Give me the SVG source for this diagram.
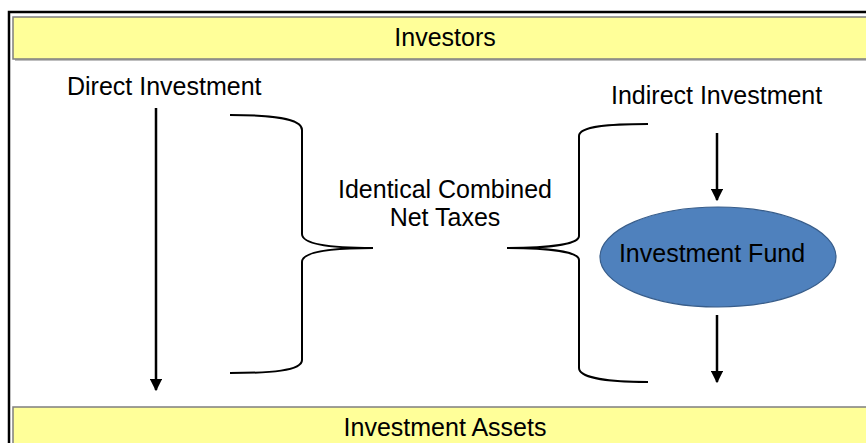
<svg xmlns="http://www.w3.org/2000/svg" width="866" height="443" viewBox="0 0 866 443">
  <defs>
    <marker id="arrowhead" viewBox="0 0 10 10" refX="9" refY="5" markerWidth="5" markerHeight="5" markerUnits="strokeWidth" orient="auto">
      <path d="M0,0 L10,5 L0,10 z" fill="#000"/>
    </marker>
  </defs>
  <style>
    text { font-family: "Liberation Sans", Arial, sans-serif; font-size: 25px; fill: #000; }
    .bar { fill: #FFFF99; stroke: #7F7F7F; stroke-width: 1.5; }
    .shadow { fill: #BFBFBF; }
    .brace { fill: none; stroke: #000; stroke-width: 2; }
    .arrow { fill: none; stroke: #000; stroke-width: 2.5; marker-end: url(#arrowhead); }
    .mid { text-anchor: middle; }
  </style>

  <rect x="0" y="0" width="866" height="443" fill="#fff"/>

  <!-- outer frame -->
  <rect x="9" y="12" width="870" height="450" fill="none" stroke="#000" stroke-width="2.5"/>

  <!-- top bar -->
  <g id="investors">
    <rect class="shadow" x="15" y="19" width="860" height="42"/>
    <rect class="bar" x="13" y="17" width="860" height="42"/>
    <text class="mid" x="445" y="46">Investors</text>
  </g>

  <!-- bottom bar -->
  <g id="investment-assets">
    <rect class="shadow" x="15" y="409" width="860" height="42"/>
    <rect class="bar" x="13" y="407" width="860" height="42"/>
    <text class="mid" x="445" y="436">Investment Assets</text>
  </g>

  <g id="direct-investment">
    <text x="67" y="95">Direct Investment</text>
  </g>

  <g id="indirect-investment">
    <text x="611" y="104">Indirect Investment</text>
  </g>

  <g id="identical-taxes">
    <text class="mid" x="445" y="198">Identical Combined</text>
    <text class="mid" x="445" y="226">Net Taxes</text>
  </g>

  <g id="investment-fund">
    <ellipse cx="718" cy="257" rx="118" ry="50" fill="#4F81BD" stroke="#385D8A" stroke-width="1.2"/>
    <text class="mid" x="712" y="262">Investment Fund</text>
  </g>

  <g id="connectors">
    <!-- direct path -->
    <line class="arrow" x1="156" y1="108" x2="156" y2="390"/>
    <!-- fund in / out -->
    <line class="arrow" x1="717" y1="133" x2="717" y2="200"/>
    <line class="arrow" x1="717" y1="315" x2="717" y2="382"/>
    <!-- left brace -->
    <path class="brace" d="M230,115 C270,115 302,118 302,130 L302,234 C302,244 330,248 373,248 C330,248 302,252 302,262 L302,360 C302,371 270,373 230,373"/>
    <!-- right brace -->
    <path class="brace" d="M648,124 C610,124 579,126 579,136 L579,236 C579,244 550,248 507,248 C550,248 579,252 579,260 L579,368 C579,378 610,382 648,382"/>
  </g>
</svg>
